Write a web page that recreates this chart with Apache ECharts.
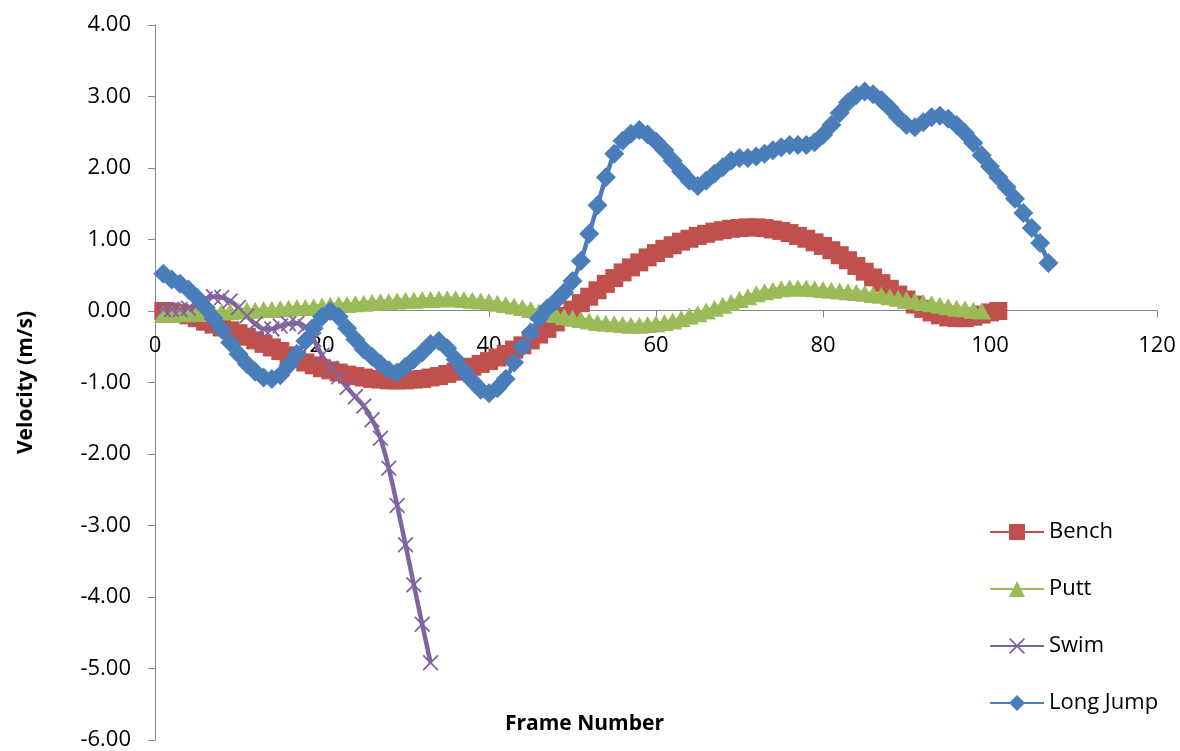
<!DOCTYPE html>
<html>
<head>
<meta charset="utf-8">
<script src="https://cdn.jsdelivr.net/npm/echarts@6/dist/echarts.min.js"></script>
<style>
html,body{margin:0;padding:0;background:#fff;}
#chart{width:1180px;height:751px;}
</style>
</head>
<body>
<div id="chart"></div>
<script>
// Values per frame (frame numbers start at 1)
var benchValues = [0.00,-0.01,-0.03,-0.06,-0.10,-0.15,-0.19,-0.23,-0.27,-0.31,
  -0.36,-0.41,-0.46,-0.51,-0.56,-0.62,-0.67,-0.72,-0.76,-0.80,
  -0.83,-0.86,-0.89,-0.91,-0.93,-0.95,-0.96,-0.97,-0.97,-0.97,
  -0.96,-0.95,-0.93,-0.91,-0.88,-0.85,-0.82,-0.78,-0.74,-0.70,
  -0.65,-0.60,-0.54,-0.48,-0.41,-0.33,-0.25,-0.16,-0.07,0.02,
  0.11,0.20,0.29,0.38,0.46,0.54,0.61,0.68,0.75,0.81,
  0.87,0.92,0.97,1.01,1.05,1.08,1.11,1.13,1.15,1.16,
  1.17,1.17,1.16,1.14,1.12,1.09,1.05,1.01,0.96,0.91,
  0.85,0.78,0.71,0.63,0.55,0.47,0.39,0.31,0.23,0.16,
  0.09,0.03,-0.02,-0.06,-0.09,-0.10,-0.10,-0.08,-0.05,-0.02,
  0.00];
var puttValues = [-0.05,-0.05,-0.04,-0.04,-0.03,-0.03,-0.02,-0.01,-0.01,0.00,
  0.01,0.01,0.02,0.02,0.03,0.04,0.05,0.05,0.06,0.07,
  0.08,0.09,0.09,0.10,0.11,0.12,0.13,0.13,0.14,0.15,
  0.15,0.16,0.16,0.17,0.17,0.17,0.16,0.15,0.14,0.13,
  0.11,0.09,0.07,0.05,0.02,-0.01,-0.03,-0.05,-0.08,-0.10,
  -0.12,-0.14,-0.16,-0.17,-0.18,-0.19,-0.20,-0.20,-0.19,-0.18,
  -0.16,-0.14,-0.11,-0.07,-0.04,0.00,0.04,0.08,0.12,0.16,
  0.20,0.24,0.27,0.29,0.31,0.32,0.32,0.32,0.31,0.30,
  0.29,0.28,0.27,0.26,0.25,0.23,0.22,0.20,0.18,0.16,
  0.14,0.12,0.10,0.08,0.06,0.04,0.03,0.01,0.00];
var swimValues = [0.02,0.02,0.02,0.04,0.10,0.17,0.20,0.19,0.14,0.05,
  -0.07,-0.18,-0.25,-0.25,-0.21,-0.18,-0.17,-0.22,-0.40,-0.62,
  -0.80,-0.92,-1.07,-1.20,-1.33,-1.52,-1.78,-2.20,-2.72,-3.27,
  -3.83,-4.38,-4.92];
var longJumpValues = [0.52,0.44,0.38,0.30,0.19,0.05,-0.10,-0.26,-0.44,-0.60,
  -0.74,-0.85,-0.93,-0.95,-0.90,-0.76,-0.60,-0.42,-0.24,-0.08,
  0.00,-0.08,-0.24,-0.40,-0.54,-0.64,-0.74,-0.83,-0.86,-0.78,
  -0.68,-0.58,-0.46,-0.42,-0.52,-0.68,-0.84,-0.98,-1.10,-1.15,
  -1.08,-0.95,-0.72,-0.50,-0.30,-0.10,0.04,0.14,0.26,0.42,
  0.70,1.08,1.48,1.87,2.20,2.38,2.48,2.53,2.47,2.37,
  2.25,2.10,1.95,1.82,1.75,1.82,1.92,2.01,2.10,2.14,
  2.14,2.16,2.20,2.25,2.29,2.32,2.32,2.32,2.36,2.46,
  2.60,2.77,2.92,3.02,3.07,3.03,2.95,2.84,2.71,2.60,
  2.57,2.64,2.71,2.73,2.69,2.60,2.49,2.35,2.18,2.02,
  1.87,1.73,1.57,1.37,1.16,0.95,0.67];
var seriesNames = ['Bench','Putt','Swim','Long Jump'];
var xTicks = {min:0, max:120, interval:20};
var yTicks = {min:-6, max:4, interval:1};

function toPairs(vals){ return vals.map(function(v,i){ return [i+1, v]; }); }

var FONT = 'Open Sans';
var xMark = 'path://M0,0.8L0.8,0L5,4.2L9.2,0L10,0.8L5.8,5L10,9.2L9.2,10L5,5.8L0.8,10L0,9.2L4.2,5Z';

var GRID_TOP = 25, GRID_BOTTOM = 10, H = 751;
var plotH = H - GRID_TOP - GRID_BOTTOM;
// place the x axis line at y = 0 of the value scale
var zeroOffset = -plotH * (0 - yTicks.min) / (yTicks.max - yTicks.min);

var chart = echarts.init(document.getElementById('chart'), null, {renderer:'canvas'});
chart.setOption({
  animation:false,
  backgroundColor:'#ffffff',
  textStyle:{fontFamily:FONT},
  grid:{left:155, right:23, top:GRID_TOP, bottom:GRID_BOTTOM, containLabel:false},
  xAxis:{
    type:'value', min:xTicks.min, max:xTicks.max, interval:xTicks.interval,
    position:'bottom', offset:zeroOffset,
    axisLine:{onZero:false, lineStyle:{color:'#868686', width:1}},
    axisTick:{show:true, inside:false, length:7, lineStyle:{color:'#868686'}},
    axisLabel:{margin:24, fontSize:22, color:'#000', fontFamily:FONT},
    splitLine:{show:false}
  },
  yAxis:{
    type:'value', min:yTicks.min, max:yTicks.max, interval:yTicks.interval,
    name:'Velocity (m/s)', nameLocation:'middle', nameGap:118, nameRotate:90,
    nameTextStyle:{fontSize:21, fontWeight:'bold', color:'#000', fontFamily:FONT},
    axisLine:{show:true, lineStyle:{color:'#868686', width:1}},
    axisTick:{show:true, inside:false, length:7, lineStyle:{color:'#868686'}},
    axisLabel:{margin:24, fontSize:22, color:'#000', fontFamily:FONT,
      formatter:function(v){ return v.toFixed(2); }},
    splitLine:{show:false}
  },
  legend:{
    orient:'vertical', left:989, top:521, padding:0,
    itemWidth:54, itemHeight:20, itemGap:35,
    textStyle:{fontSize:22, color:'#000', fontFamily:FONT},
    data:seriesNames
  },
  graphic:[{
    type:'text', left:505, top:714,
    style:{text:'Frame Number', font:'bold 21px "Open Sans"', fill:'#000'}
  }],
  series:[
    {name:'Bench', type:'line', data:toPairs(benchValues), smooth:0.3,
     symbol:'rect', symbolSize:18,
     lineStyle:{color:'#C0504D', width:4.5},
     itemStyle:{color:'#C0504D'}},
    {name:'Putt', type:'line', data:toPairs(puttValues), smooth:0.3,
     symbol:'triangle', symbolSize:[19,17],
     lineStyle:{color:'#9BBB59', width:4.5},
     itemStyle:{color:'#9BBB59'}},
    {name:'Swim', type:'line', data:toPairs(swimValues), smooth:0.3,
     symbol:xMark, symbolSize:16,
     lineStyle:{color:'#8064A2', width:4.5},
     itemStyle:{color:'#8064A2'}},
    {name:'Long Jump', type:'line', data:toPairs(longJumpValues), smooth:0.3,
     symbol:'diamond', symbolSize:20,
     lineStyle:{color:'#4A7EBB', width:4.5},
     itemStyle:{color:'#4A7EBB'}}
  ]
});
</script>
</body>
</html>
